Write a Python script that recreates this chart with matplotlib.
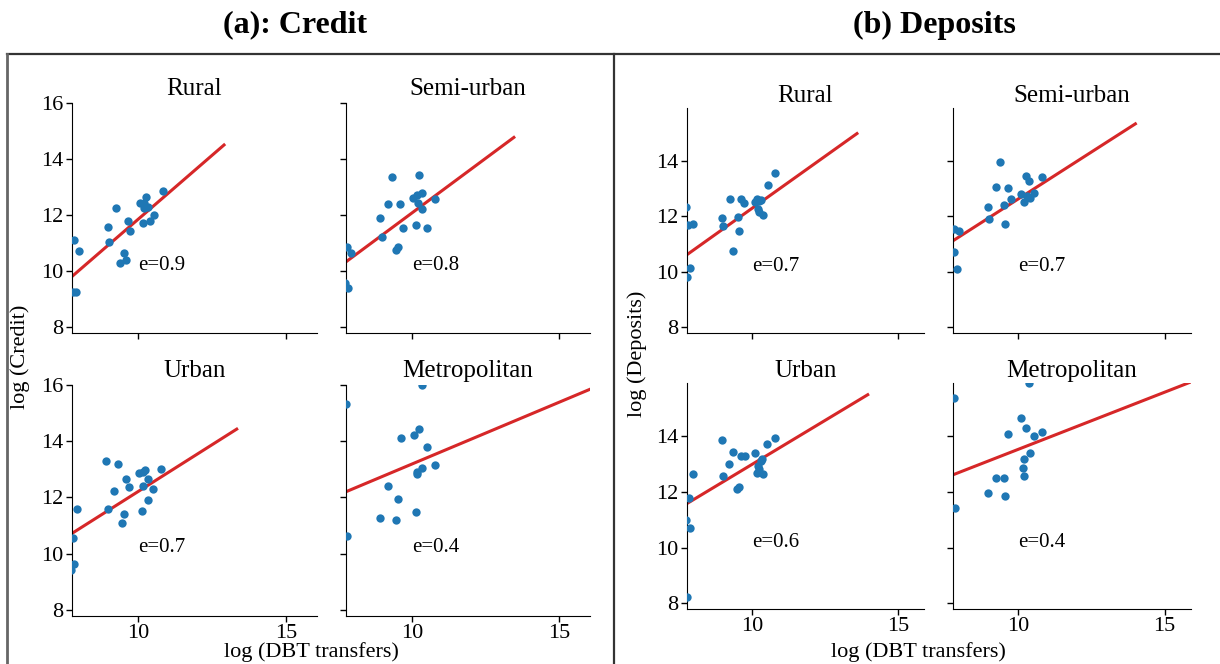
import matplotlib
matplotlib.use('Agg')
import matplotlib.pyplot as plt
from matplotlib.lines import Line2D

plt.rcParams['font.family'] = ['Liberation Serif', 'DejaVu Serif']

# panel names and elasticities
regions = ['Rural', 'Semi-urban', 'Urban', 'Metropolitan']
credit_e = [0.9, 0.8, 0.7, 0.4]
deposit_e = [0.7, 0.7, 0.6, 0.4]

# (a) credit scatter data: log DBT transfers vs log credit
credit_rural_x = [7.82, 7.98, 7.87, 7.80, 8.96, 8.99, 9.23, 9.64, 9.73, 9.50, 9.36, 9.57, 10.07, 10.27, 10.20, 10.18, 10.34, 10.16, 10.38, 10.54, 10.82]
credit_rural_y = [11.11, 10.71, 9.24, 9.24, 11.56, 11.02, 12.24, 11.79, 11.44, 10.63, 10.27, 10.39, 12.44, 12.64, 12.42, 12.24, 12.30, 11.70, 11.79, 11.99, 12.86]
credit_semi_x = [7.77, 7.92, 7.73, 7.82, 8.91, 8.96, 9.19, 9.33, 9.60, 9.69, 9.46, 9.53, 10.03, 10.15, 10.24, 10.33, 10.19, 10.35, 10.13, 10.51, 10.79]
credit_semi_y = [10.87, 10.63, 9.56, 9.38, 11.90, 11.20, 12.39, 13.37, 12.38, 11.54, 10.75, 10.85, 12.60, 12.71, 13.43, 12.78, 12.42, 12.20, 11.65, 11.54, 12.56]
credit_urban_x = [7.77, 7.93, 7.83, 7.70, 8.91, 9.32, 8.96, 9.18, 9.59, 9.68, 9.52, 9.45, 10.02, 10.16, 10.23, 10.14, 10.32, 10.50, 10.34, 10.12, 10.77]
credit_urban_y = [10.57, 11.58, 9.63, 9.42, 13.30, 13.19, 11.60, 12.22, 12.67, 12.38, 11.40, 11.09, 12.86, 12.90, 12.97, 12.42, 12.64, 12.29, 11.90, 11.52, 13.02]
credit_metro_x = [7.75, 7.80, 10.33, 10.24, 10.05, 9.61, 10.50, 10.78, 10.35, 10.17, 10.15, 9.19, 9.52, 10.13, 8.90, 9.46]
credit_metro_y = [15.31, 10.62, 16.01, 14.42, 14.22, 14.10, 13.78, 13.14, 13.04, 12.92, 12.83, 12.39, 11.93, 11.49, 11.25, 11.18]

# (b) deposits scatter data
dep_rural_x = [7.74, 7.81, 7.99, 7.89, 7.77, 8.97, 8.99, 9.23, 9.36, 9.52, 9.57, 9.63, 9.73, 10.09, 10.16, 10.25, 10.32, 10.20, 10.23, 10.39, 10.55, 10.80]
dep_rural_y = [12.32, 11.69, 11.74, 10.14, 9.82, 11.93, 11.65, 12.64, 10.77, 11.97, 11.49, 12.61, 12.49, 12.52, 12.61, 12.54, 12.59, 12.25, 12.14, 12.05, 13.14, 13.57]
dep_semi_x = [7.82, 7.98, 7.80, 7.89, 8.96, 9.01, 9.24, 9.36, 9.65, 9.51, 9.55, 9.74, 10.08, 10.20, 10.26, 10.36, 10.40, 10.54, 10.80, 10.30]
dep_semi_y = [11.56, 11.49, 10.70, 10.10, 12.32, 11.92, 13.05, 13.97, 13.01, 12.40, 11.73, 12.61, 12.82, 12.52, 13.45, 13.29, 12.66, 12.83, 13.41, 12.75]
dep_urban_x = [7.74, 7.83, 7.89, 7.98, 7.78, 8.97, 8.99, 9.22, 9.36, 9.50, 9.57, 9.63, 9.75, 10.09, 10.16, 10.20, 10.23, 10.30, 10.34, 10.39, 10.53, 10.80]
dep_urban_y = [11.00, 11.78, 10.70, 12.63, 8.24, 13.87, 12.56, 12.98, 13.44, 12.11, 12.18, 13.28, 13.29, 13.39, 12.66, 12.94, 12.83, 13.10, 13.19, 12.63, 13.70, 13.94]
dep_metro_x = [7.80, 7.83, 10.36, 10.10, 10.27, 9.65, 10.54, 10.81, 10.40, 10.21, 10.15, 10.20, 9.24, 9.51, 8.96, 9.55]
dep_metro_y = [15.36, 11.42, 15.91, 14.63, 14.30, 14.07, 14.01, 14.14, 13.38, 13.19, 12.86, 12.56, 12.51, 12.50, 11.94, 11.84]

# fitted line end points per panel: (x start, x end), (y start, y end)
credit_fit_x = [(7.75, 12.90), (7.72, 13.46), (7.75, 13.33), (7.70, 16.10)]
credit_fit_y = [(9.80, 14.50), (10.30, 14.77), (10.72, 14.43), (12.18, 15.87)]
dep_fit_x = [(7.77, 13.60), (7.77, 14.00), (7.77, 13.97), (7.77, 16.00)]
dep_fit_y = [(10.62, 14.98), (11.12, 15.33), (11.58, 15.48), (12.61, 15.98)]

credit_pts = [(credit_rural_x, credit_rural_y), (credit_semi_x, credit_semi_y),
              (credit_urban_x, credit_urban_y), (credit_metro_x, credit_metro_y)]
dep_pts = [(dep_rural_x, dep_rural_y), (dep_semi_x, dep_semi_y),
           (dep_urban_x, dep_urban_y), (dep_metro_x, dep_metro_y)]

W, H = 1220, 664
fig = plt.figure(figsize=(W / 100, H / 100), dpi=100)


def px_axes(x0, y0, x1, y1):
    # axes from pixel box, y measured from the top
    return fig.add_axes([x0 / W, 1 - y1 / H, (x1 - x0) / W, (y1 - y0) / H])


def draw_panel(boxes, pts, fit_x, fit_y, elast, xlim, ylim, yticks, pad):
    for i, box in enumerate(boxes):
        ax = px_axes(*box)
        x, y = pts[i]
        ax.scatter(x, y, s=36, color='#1f77b4', zorder=3, linewidths=0)
        ax.plot(fit_x[i], fit_y[i], color='#d62728', lw=2.2, zorder=2)
        ax.text(10, 10.2, 'e=' + str(elast[i]), fontsize=15, ha='left', va='center')
        ax.set_title(regions[i], fontsize=18, pad=pad)
        ax.set_xlim(xlim)
        ax.set_ylim(ylim)
        ax.set_xticks([10, 15])
        ax.set_yticks(yticks)
        ax.spines['top'].set_visible(False)
        ax.spines['right'].set_visible(False)
        ax.tick_params(labelsize=16, length=4, width=1, pad=2)
        if i < 2:
            ax.tick_params(labelbottom=False)
        if i % 2 == 1:
            ax.tick_params(labelleft=False)


credit_boxes = [(72, 103, 317, 333), (346, 103, 590, 333),
                (72, 385, 317, 616), (346, 385, 590, 616)]
dep_boxes = [(687, 108, 924, 333), (953, 108, 1191, 333),
             (687, 383, 924, 609), (953, 383, 1191, 609)]

draw_panel(credit_boxes, credit_pts, credit_fit_x, credit_fit_y, credit_e,
           (7.75, 16.05), (7.78, 16.0), [8, 10, 12, 14, 16], 6)
draw_panel(dep_boxes, dep_pts, dep_fit_x, dep_fit_y, deposit_e,
           (7.77, 15.9), (7.8, 15.9), [8, 10, 12, 14], 4)

# axis labels
fig.text(20 / W, 1 - 357 / H, 'log (Credit)', rotation=90, fontsize=16, ha='center', va='center')
fig.text(637 / W, 1 - 354 / H, 'log (Deposits)', rotation=90, fontsize=16, ha='center', va='center')
fig.text(311 / W, 1 - 652 / H, 'log (DBT transfers)', fontsize=16, ha='center', va='center')
fig.text(918 / W, 1 - 652 / H, 'log (DBT transfers)', fontsize=16, ha='center', va='center')

# panel headings
fig.text(295 / W, 1 - 25 / H, '(a): Credit', fontsize=23, fontweight='bold', ha='center', va='center')
fig.text(934 / W, 1 - 25 / H, '(b) Deposits', fontsize=23, fontweight='bold', ha='center', va='center')

# frame around the two panels
top = 1 - 53.5 / H
fig.add_artist(Line2D([7 / W, 1], [top, top], color='#333333', lw=1.6, transform=fig.transFigure))
fig.add_artist(Line2D([7 / W, 7 / W], [0, top], color='#666666', lw=2, transform=fig.transFigure))
fig.add_artist(Line2D([614 / W, 614 / W], [0, top], color='#333333', lw=1.6, transform=fig.transFigure))

plt.savefig('out.png', dpi=100)
